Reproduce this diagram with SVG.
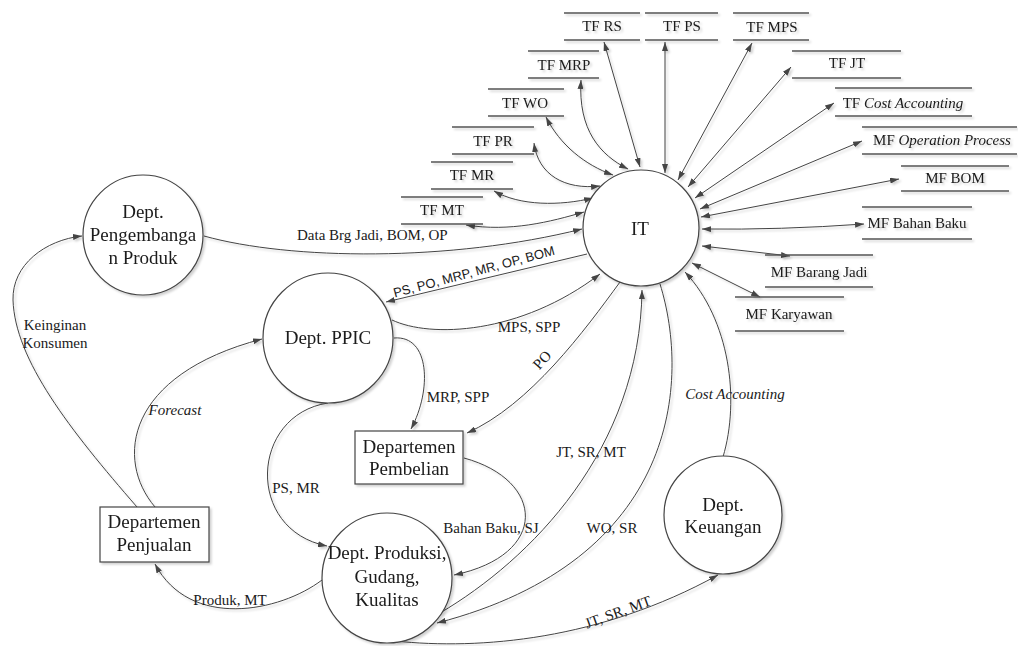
<svg xmlns="http://www.w3.org/2000/svg" width="1018" height="646" viewBox="0 0 1018 646">
  <defs>
    <marker id="arr" viewBox="0 0 9 6" refX="9" refY="3" markerWidth="9" markerHeight="6" markerUnits="userSpaceOnUse" orient="auto-start-reverse">
      <path d="M0,0 L9,3 L0,6 z" fill="#444"/>
    </marker>
    <filter id="shadow" x="-10%" y="-10%" width="130%" height="130%">
      <feDropShadow dx="2" dy="2" stdDeviation="1" flood-color="#000" flood-opacity="0.18"/>
    </filter>
    <style>
      text { font-family: "Liberation Serif", "Times New Roman", serif; fill: #1a1a1a; }
      .node { font-size: 19px; text-anchor: middle; }
      .lbl { font-size: 15px; }
      .mid { text-anchor: middle; }
      .store-t { font-size: 15px; text-anchor: middle; }
      .sans { font-family: "Liberation Sans", Arial, sans-serif; font-size: 13px; }
      .shape { fill: #fff; stroke: #444; stroke-width: 1.2; }
      .store line { stroke: #555; stroke-width: 1.4; }
      .edge { fill: none; stroke: #444; stroke-width: 1; }
      .one { marker-end: url(#arr); }
      .two { marker-start: url(#arr); marker-end: url(#arr); }
    </style>
  </defs>
  <rect width="1018" height="646" fill="#fff"/>

  <!-- data flows -->
  <g id="connectors" class="edge" filter="url(#shadow)">
    <!-- IT <-> data stores -->
    <path class="two" d="M604,42 L640,167"/>
    <path class="two" d="M665,42 L665,173"/>
    <path class="two" d="M752,43 L678,180"/>
    <path class="two" d="M791,67 L688,187"/>
    <path class="two" d="M834,103 L695,198"/>
    <path class="two" d="M862,141 L700,209"/>
    <path class="two" d="M899,179 L701,217"/>
    <path class="two" d="M864,224 Q780,230 702,229"/>
    <path class="two" d="M790,256 L702,246"/>
    <path class="two" d="M760,297 L692,263"/>
    <path class="two" d="M581,80 C578,130 600,155 628,169"/>
    <path class="two" d="M546,117 C560,145 585,165 613,175"/>
    <path class="two" d="M534,143 C538,175 565,190 600,186"/>
    <path class="two" d="M494,191 C520,206 560,206 593,198"/>
    <path class="two" d="M466,225 C510,232 550,222 584,212"/>

    <!-- process flows -->
    <path class="one" d="M204,236 C290,260 450,262 582,229"/>
    <path class="one" d="M587,254 L386,302"/>
    <path class="one" d="M392,320 C430,338 520,335 600,274"/>
    <path class="one" d="M394,338 C430,335 432,390 411,429"/>
    <path class="one" d="M620,282 C585,330 530,405 467,433"/>
    <path class="one" d="M440,613 C530,560 640,450 642,290"/>
    <path class="one" d="M660,284 C690,380 680,560 437,623"/>
    <path class="one" d="M723,457 C740,400 730,320 685,272"/>
    <path class="one" d="M395,641 C480,650 600,640 718,575"/>
    <path class="one" d="M328,403 C250,415 245,530 327,546"/>
    <path class="one" d="M464,458 C545,480 550,555 454,575"/>
    <path class="one" d="M322,580 C280,612 190,630 155,564"/>
    <path class="one" d="M155,507 C115,460 125,375 262,339"/>
    <path class="one" d="M137,507 C70,430 15,360 13,300 C12,265 45,240 82,236"/>
  </g>

  <!-- flow labels -->
  <g id="flow-labels">
    <text class="lbl" x="297" y="240">Data Brg Jadi, BOM, OP</text>
    <text class="sans mid" x="475" y="276" transform="rotate(-15 475 276)">PS, PO, MRP, MR, OP, BOM</text>
    <text class="lbl mid" x="529" y="332">MPS, SPP</text>
    <text class="lbl mid" x="458" y="402">MRP, SPP</text>
    <text class="lbl mid" x="542" y="365" transform="rotate(-48 542 360)">PO</text>
    <text class="lbl mid" x="591" y="457">JT, SR, MT</text>
    <text class="lbl mid" x="612" y="533">WO, SR</text>
    <text class="lbl mid" x="735" y="399" font-style="italic">Cost Accounting</text>
    <text class="lbl mid" x="618" y="617" transform="rotate(-20 618 612)">JT, SR, MT</text>
    <text class="lbl mid" x="296" y="493">PS, MR</text>
    <text class="lbl mid" x="491" y="533">Bahan Baku, SJ</text>
    <text class="lbl mid" x="230" y="605">Produk, MT</text>
    <text class="lbl mid" x="175" y="415" font-style="italic">Forecast</text>
    <text class="lbl mid" x="55" y="330">Keinginan</text>
    <text class="lbl mid" x="55" y="348">Konsumen</text>
  </g>

  <!-- processes and entities -->
  <g id="it" filter="url(#shadow)">
    <circle class="shape" cx="641" cy="228" r="58"/>
    <text class="node" x="640" y="235" font-size="20">IT</text>
  </g>
  <g id="dept-pengembangan" filter="url(#shadow)">
    <circle class="shape" cx="143" cy="235" r="60"/>
    <text class="node" x="143" y="218">Dept.</text>
    <text class="node" x="143" y="241">Pengembanga</text>
    <text class="node" x="143" y="264">n Produk</text>
  </g>
  <g id="dept-ppic" filter="url(#shadow)">
    <circle class="shape" cx="328" cy="338" r="65"/>
    <text class="node" x="328" y="344">Dept. PPIC</text>
  </g>
  <g id="dept-produksi" filter="url(#shadow)">
    <circle class="shape" cx="387" cy="578" r="65"/>
    <text class="node" x="387" y="559">Dept. Produksi,</text>
    <text class="node" x="387" y="583">Gudang,</text>
    <text class="node" x="387" y="606">Kualitas</text>
  </g>
  <g id="dept-keuangan" filter="url(#shadow)">
    <circle class="shape" cx="723" cy="515" r="59"/>
    <text class="node" x="723" y="511">Dept.</text>
    <text class="node" x="723" y="533">Keuangan</text>
  </g>
  <g id="departemen-pembelian" filter="url(#shadow)">
    <rect class="shape" x="355" y="431" width="108" height="53"/>
    <text class="node" x="409" y="453">Departemen</text>
    <text class="node" x="409" y="475">Pembelian</text>
  </g>
  <g id="departemen-penjualan" filter="url(#shadow)">
    <rect class="shape" x="100" y="507" width="109" height="55"/>
    <text class="node" x="154" y="528">Departemen</text>
    <text class="node" x="154" y="551">Penjualan</text>
  </g>

  <!-- data stores -->
  <g id="tf-rs" class="store" filter="url(#shadow)">
    <line x1="564" y1="13" x2="640" y2="13"/><line x1="564" y1="40" x2="640" y2="40"/>
    <text class="store-t" x="602" y="31">TF RS</text>
  </g>
  <g id="tf-ps" class="store" filter="url(#shadow)">
    <line x1="645" y1="13" x2="718" y2="13"/><line x1="645" y1="40" x2="718" y2="40"/>
    <text class="store-t" x="682" y="31">TF PS</text>
  </g>
  <g id="tf-mps" class="store" filter="url(#shadow)">
    <line x1="733" y1="13" x2="809" y2="13"/><line x1="733" y1="40" x2="809" y2="40"/>
    <text class="store-t" x="772" y="32">TF MPS</text>
  </g>
  <g id="tf-mrp" class="store" filter="url(#shadow)">
    <line x1="528" y1="51" x2="599" y2="51"/><line x1="528" y1="78" x2="599" y2="78"/>
    <text class="store-t" x="564" y="70">TF MRP</text>
  </g>
  <g id="tf-wo" class="store" filter="url(#shadow)">
    <line x1="488" y1="89" x2="564" y2="89"/><line x1="488" y1="116" x2="564" y2="116"/>
    <text class="store-t" x="525" y="108">TF WO</text>
  </g>
  <g id="tf-pr" class="store" filter="url(#shadow)">
    <line x1="452" y1="127" x2="534" y2="127"/><line x1="452" y1="154" x2="534" y2="154"/>
    <text class="store-t" x="493" y="146">TF PR</text>
  </g>
  <g id="tf-mr" class="store" filter="url(#shadow)">
    <line x1="431" y1="162" x2="513" y2="162"/><line x1="431" y1="189" x2="513" y2="189"/>
    <text class="store-t" x="472" y="180">TF MR</text>
  </g>
  <g id="tf-mt" class="store" filter="url(#shadow)">
    <line x1="401" y1="197" x2="483" y2="197"/><line x1="401" y1="224" x2="483" y2="224"/>
    <text class="store-t" x="442" y="215">TF MT</text>
  </g>
  <g id="tf-jt" class="store" filter="url(#shadow)">
    <line x1="792" y1="51" x2="901" y2="51"/><line x1="792" y1="78" x2="901" y2="78"/>
    <text class="store-t" x="847" y="68">TF JT</text>
  </g>
  <g id="tf-cost-accounting" class="store" filter="url(#shadow)">
    <line x1="835" y1="88" x2="972" y2="88"/><line x1="835" y1="116" x2="972" y2="116"/>
    <text class="store-t" x="903" y="108">TF <tspan font-style="italic">Cost Accounting</tspan></text>
  </g>
  <g id="mf-operation-process" class="store" filter="url(#shadow)">
    <line x1="862" y1="127" x2="1017" y2="127"/><line x1="862" y1="154" x2="1017" y2="154"/>
    <text class="store-t" x="942" y="145">MF <tspan font-style="italic">Operation Process</tspan></text>
  </g>
  <g id="mf-bom" class="store" filter="url(#shadow)">
    <line x1="901" y1="166" x2="1009" y2="166"/><line x1="901" y1="191" x2="1009" y2="191"/>
    <text class="store-t" x="955" y="183">MF BOM</text>
  </g>
  <g id="mf-bahan-baku" class="store" filter="url(#shadow)">
    <line x1="862" y1="207" x2="972" y2="207"/><line x1="862" y1="239" x2="972" y2="239"/>
    <text class="store-t" x="917" y="228">MF Bahan Baku</text>
  </g>
  <g id="mf-barang-jadi" class="store" filter="url(#shadow)">
    <line x1="765" y1="255" x2="873" y2="255"/><line x1="765" y1="287" x2="873" y2="287"/>
    <text class="store-t" x="819" y="277">MF Barang Jadi</text>
  </g>
  <g id="mf-karyawan" class="store" filter="url(#shadow)">
    <line x1="735" y1="297" x2="844" y2="297"/><line x1="735" y1="331" x2="844" y2="331"/>
    <text class="store-t" x="789" y="319">MF Karyawan</text>
  </g>
</svg>
